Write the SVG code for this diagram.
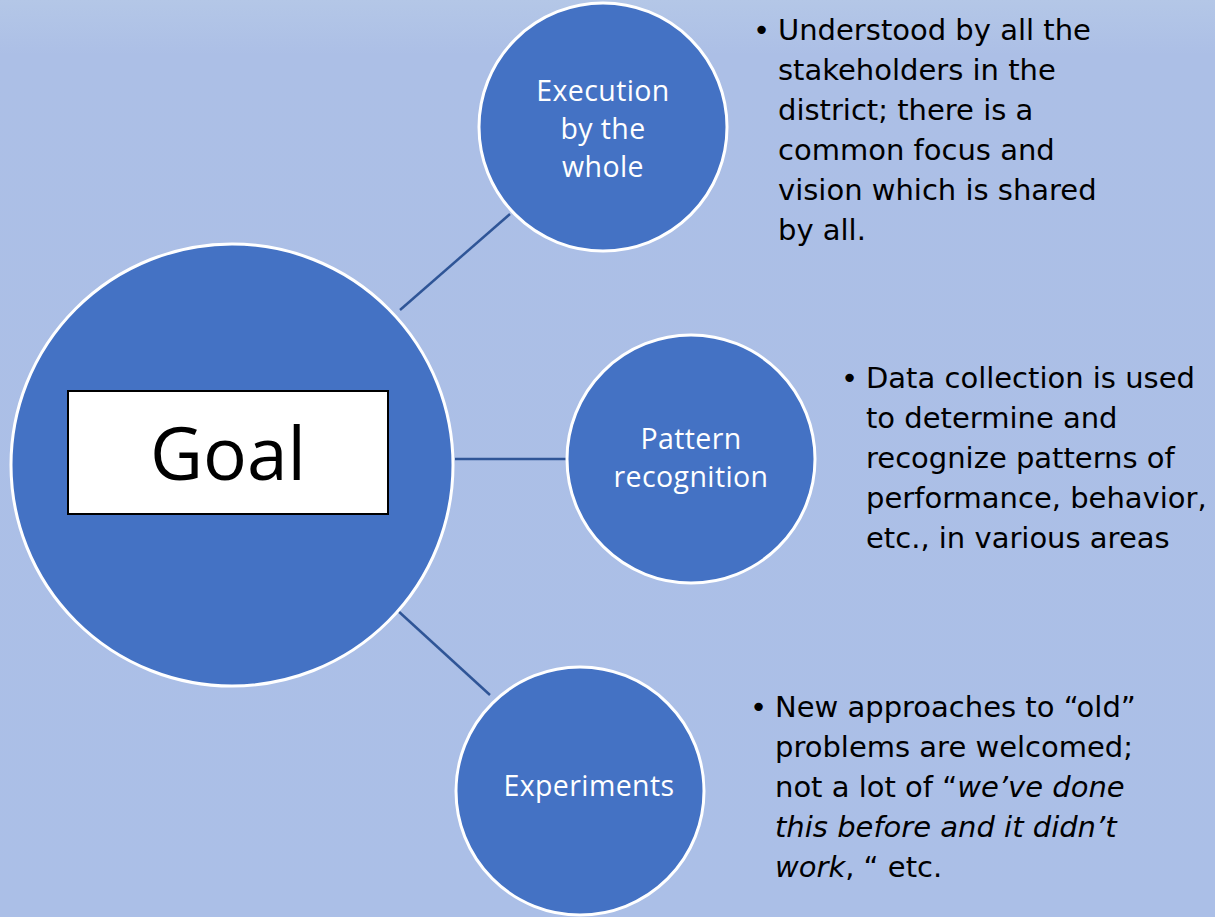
<svg xmlns="http://www.w3.org/2000/svg" width="1215" height="917" viewBox="0 0 1215 917">
<defs>
<linearGradient id="bg" x1="0" y1="0" x2="0" y2="1">
<stop offset="0" stop-color="#B4C7E7"/>
<stop offset="0.06" stop-color="#ACBFE6"/>
<stop offset="1" stop-color="#ABBFE7"/>
</linearGradient>
<style>
.node{fill:#4472C4;stroke:#FFFFFF;stroke-width:3}
.nlab{font-family:"Open Sans","Liberation Sans",sans-serif;font-size:28.5px;fill:#FFFFFF;text-anchor:middle;letter-spacing:0.4px}
.conn{stroke:#2F5597;stroke-width:2.5;fill:none}
.bul{font-family:"DejaVu Sans","Noto Sans",sans-serif;font-size:29px;fill:#000000}
</style>
</defs>
<rect x="0" y="0" width="1215" height="917" fill="url(#bg)"/>
<g id="connectors">
<line class="conn" x1="400" y1="310" x2="510" y2="214"/>
<line class="conn" x1="455" y1="459" x2="567" y2="459"/>
<line class="conn" x1="397" y1="610" x2="490" y2="695"/>
</g>
<g id="goal">
<circle class="node" cx="232" cy="465" r="221"/>
<rect x="68" y="391" width="320" height="123" fill="#FFFFFF" stroke="#000000" stroke-width="2"/>
<text x="228" y="480" font-family="'Open Sans','Liberation Sans',sans-serif" font-size="73" text-anchor="middle" fill="#000000">Goal</text>
</g>
<g id="execution">
<circle class="node" cx="603" cy="127" r="124"/>
<text class="nlab" x="603" y="101">Execution</text>
<text class="nlab" x="603" y="139">by the</text>
<text class="nlab" x="603" y="177">whole</text>
</g>
<g id="pattern">
<circle class="node" cx="691" cy="459" r="124"/>
<text class="nlab" x="691" y="449">Pattern</text>
<text class="nlab" x="691" y="487">recognition</text>
</g>
<g id="experiments">
<circle class="node" cx="580" cy="791" r="124"/>
<text class="nlab" x="589" y="796">Experiments</text>
</g>
<g id="text-execution" class="bul">
<text x="753" y="40">•</text>
<text x="778" y="40">Understood by all the</text>
<text x="778" y="80">stakeholders in the</text>
<text x="778" y="120">district; there is a</text>
<text x="778" y="160">common focus and</text>
<text x="778" y="200">vision which is shared</text>
<text x="778" y="240">by all.</text>
</g>
<g id="text-pattern" class="bul">
<text x="841" y="388">•</text>
<text x="866" y="388">Data collection is used</text>
<text x="866" y="428">to determine and</text>
<text x="866" y="468">recognize patterns of</text>
<text x="866" y="508">performance, behavior,</text>
<text x="866" y="548">etc., in various areas</text>
</g>
<g id="text-experiments" class="bul">
<text x="750" y="717">•</text>
<text x="775" y="717">New approaches to “old”</text>
<text x="775" y="757">problems are welcomed;</text>
<text x="775" y="797">not a lot of “<tspan font-style="italic">we’ve done</tspan></text>
<text x="775" y="837" font-style="italic">this before and it didn’t</text>
<text x="775" y="877"><tspan font-style="italic">work</tspan>, “ etc.</text>
</g>
</svg>
